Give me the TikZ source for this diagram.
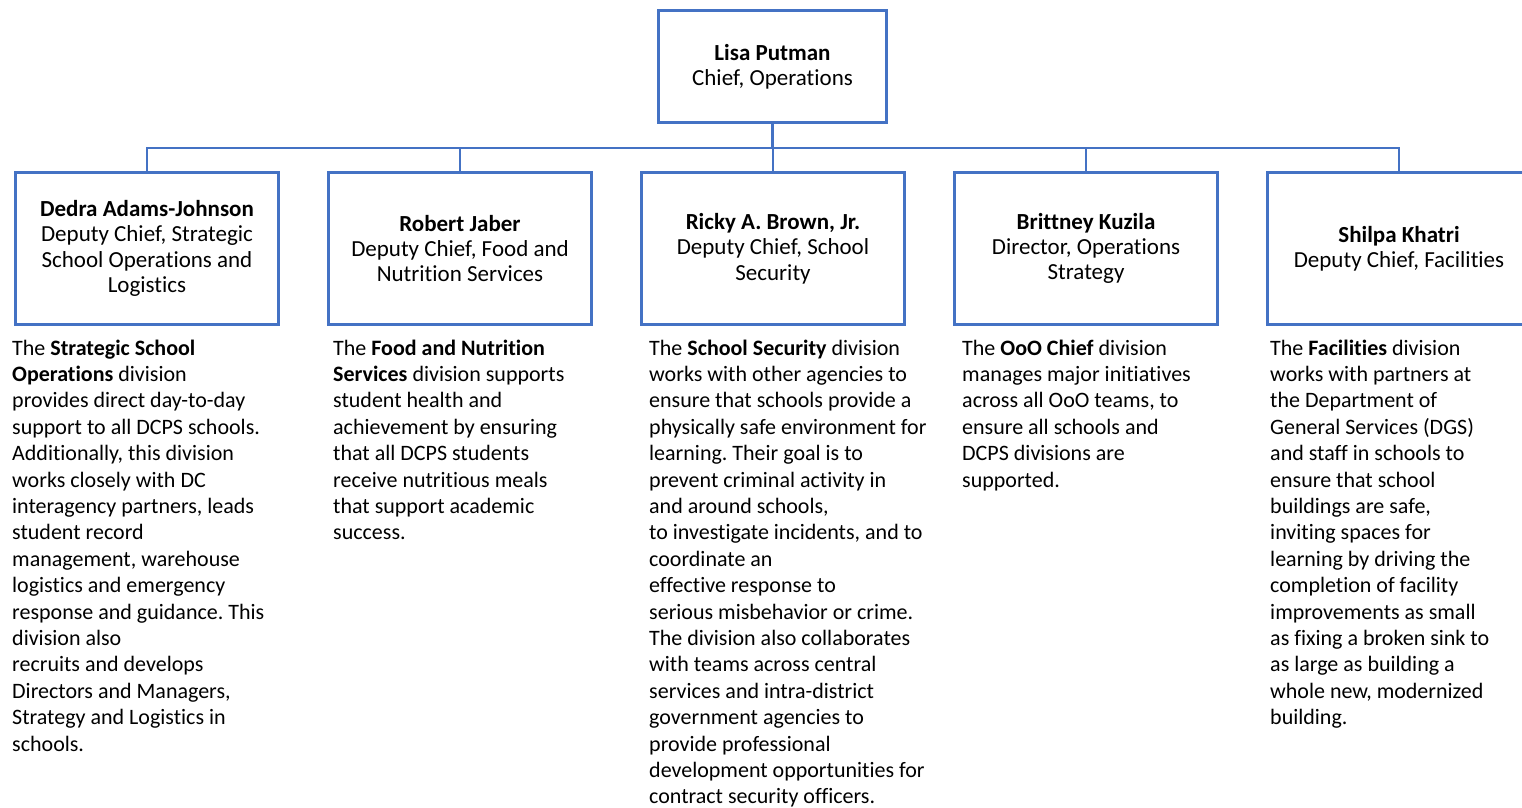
\documentclass[tikz,border=0pt]{standalone}
\usepackage{fontspec}
\setmainfont{Carlito}[RawFeature={-liga}]
\frenchspacing
\definecolor{boxblue}{RGB}{68,114,196}
\begin{document}
\begin{tikzpicture}[x=1pt,y=-1pt,
  orgbox/.style={draw=boxblue,line width=3pt,minimum width=263pt,minimum height=152pt,inner sep=0pt,align=center,
    font=\fontsize{23}{25.3}\selectfont},
  chiefbox/.style={orgbox,minimum width=228pt,minimum height=112pt},
  desc/.style={anchor=north west,inner sep=0pt,align=left,font=\fontsize{22}{26.4}\selectfont},
  conn/.style={draw=boxblue,line width=2.2pt}]
\useasboundingbox (0,0) rectangle (1522,807);
\clip (0,0) rectangle (1522,807);
\node[chiefbox] (top) at (772.5,66.5) {\textbf{Lisa Putman}\\Chief, Operations};
\node[orgbox] (b1) at (147,248.5) {\textbf{Dedra Adams-Johnson}\\Deputy Chief, Strategic\\School Operations and\\Logistics};
\node[orgbox] (b2) at (460,248.5) {\textbf{Robert Jaber}\\Deputy Chief, Food and\\Nutrition Services};
\node[orgbox] (b3) at (773,248.5) {\textbf{Ricky A. Brown, Jr.}\\Deputy Chief, School\\Security};
\node[orgbox] (b4) at (1086,248.5) {\textbf{Brittney Kuzila}\\Director, Operations\\Strategy};
\node[orgbox] (b5) at (1399,248.5) {\textbf{Shilpa Khatri}\\Deputy Chief, Facilities};
\coordinate (bus) at (772.5,148);
\draw[conn] (top.south) -- (bus);
\foreach \b in {b1,b2,b3,b4,b5} \draw[conn] (bus) -| (\b.north);
\node[desc] (d1) at (12,339.5) {The \textbf{Strategic School}\\\textbf{Operations} division\\provides direct day-to-day\\support to all DCPS schools.\\Additionally, this division\\works closely with DC\\interagency partners, leads\\student record\\management, warehouse\\logistics and emergency\\response and guidance. This\\division also\\recruits and develops\\Directors and Managers,\\Strategy and Logistics in\\schools.};
\node[desc] (d2) at (333,339.5) {The \textbf{Food and Nutrition}\\\textbf{Services} division supports\\student health and\\achievement by ensuring\\that all DCPS students\\receive nutritious meals\\that support academic\\success.};
\node[desc] (d3) at (649,339.5) {The \textbf{School Security} division\\works with other agencies to\\ensure that schools provide a\\physically safe environment for\\learning. Their goal is to\\prevent criminal activity in\\and around schools,\\to investigate incidents, and to\\coordinate an\\effective response to\\serious misbehavior or crime.\\The division also collaborates\\with teams across central\\services and intra-district\\government agencies to\\provide professional\\development opportunities for\\contract security officers.};
\node[desc] (d4) at (962,339.5) {The \textbf{OoO Chief} division\\manages major initiatives\\across all OoO teams, to\\ensure all schools and\\DCPS divisions are\\supported.};
\node[desc] (d5) at (1270,339.5) {The \textbf{Facilities} division\\works with partners at\\the Department of\\General Services (DGS)\\and staff in schools to\\ensure that school\\buildings are safe,\\inviting spaces for\\learning by driving the\\completion of facility\\improvements as small\\as fixing a broken sink to\\as large as building a\\whole new, modernized\\building.};
\end{tikzpicture}
\end{document}
